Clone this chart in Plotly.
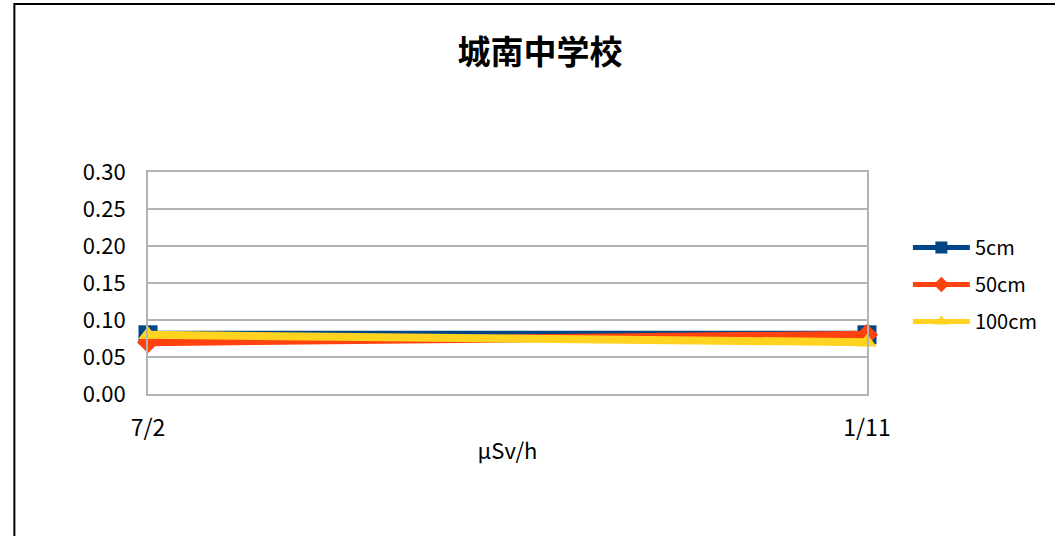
import plotly.graph_objects as go

categories = ["7/2", "1/11"]
series_names = ["5cm", "50cm", "100cm"]
values_5cm = [0.08, 0.08]
values_50cm = [0.07, 0.08]
values_100cm = [0.08, 0.07]
y_ticks = [0.00, 0.05, 0.10, 0.15, 0.20, 0.25, 0.30]
y_tick_labels = ["0.00", "0.05", "0.10", "0.15", "0.20", "0.25", "0.30"]

colors = ["#004586", "#ff420e", "#ffd320"]
symbols = ["square", "diamond", "triangle-up"]
marker_sizes = [19, 17, 17]
all_values = [values_5cm, values_50cm, values_100cm]

FONT = "Noto Sans CJK JP, Noto Sans, sans-serif"

fig = go.Figure()
for name, vals, col, sym, ms in zip(series_names, all_values, colors, symbols, marker_sizes):
    fig.add_trace(go.Scatter(
        x=categories, y=vals, name=name, mode="lines+markers",
        legendgroup=name,
        line=dict(color=col, width=8),
        marker=dict(symbol=sym, size=ms, color=col),
        cliponaxis=False,
    ))

W, H = 1055, 536
L, R, T, B = 148, W - 869, 172, H - 394
pw, ph = W - L - R, H - T - B

def px(x):
    return (x - L) / pw

def py(y):
    return (H - B - y) / ph

fig.update_layout(
    width=W, height=H,
    margin=dict(l=L, r=R, t=T, b=B),
    paper_bgcolor="white", plot_bgcolor="white",
    font=dict(family=FONT, color="black"),
    title=dict(text="<b>城南中学校</b>", x=px(541), xref="paper", xanchor="center",
               y=1 - 52 / H, yanchor="middle", yref="container",
               font=dict(size=33, family=FONT, color="black")),
    showlegend=True,
    legend=dict(x=px(910), y=py(247 - 19), xanchor="left", yanchor="top",
                font=dict(size=20, family=FONT), tracegroupgap=8,
                itemwidth=57, itemsizing="constant", bgcolor="rgba(0,0,0,0)"),
    xaxis=dict(
        type="category", range=[0, 1],
        showgrid=True, gridcolor="#b3b3b3", gridwidth=2,
        showline=True, linecolor="#b3b3b3", linewidth=2, mirror=True,
        tickfont=dict(size=23, family=FONT), ticks="",
        ticklabelstandoff=12,
        title=dict(text="µSv/h", font=dict(size=22, family=FONT), standoff=2),
        zeroline=False, fixedrange=True,
    ),
    yaxis=dict(
        range=[0, 0.3], tickvals=y_ticks, ticktext=y_tick_labels,
        showgrid=True, gridcolor="#b3b3b3", gridwidth=2,
        showline=True, linecolor="#b3b3b3", linewidth=2, mirror=True,
        tickfont=dict(size=22, family=FONT), ticks="",
        ticklabelstandoff=16,
        zeroline=False, fixedrange=True,
    ),
    shapes=[dict(type="rect", xref="paper", yref="paper",
                 x0=px(14), x1=px(1070), y0=py(570), y1=py(4),
                 line=dict(color="black", width=2), layer="below")],
)

fig.write_html("out.html", config={"displayModeBar": False},
               post_script="document.body.style.margin='0';")
